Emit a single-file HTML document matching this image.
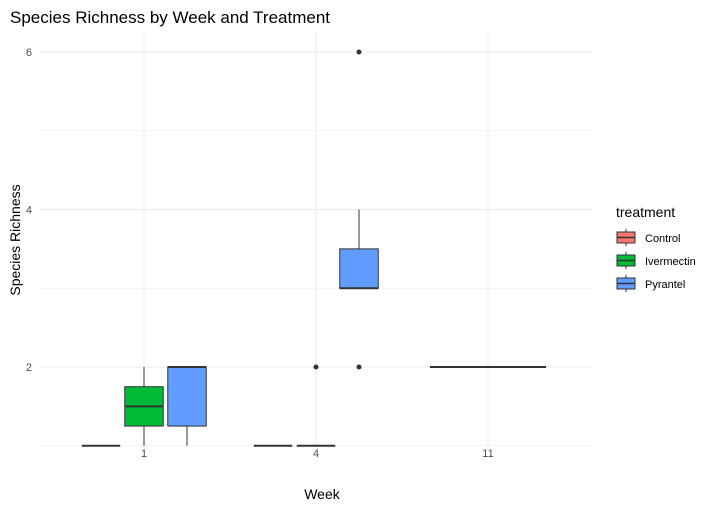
<!DOCTYPE html>
<html><head><meta charset="utf-8"><style>
body{margin:0;background:#fff;font-family:"Liberation Sans",sans-serif}
</style></head><body>
<svg id="c" width="715" height="510" xmlns="http://www.w3.org/2000/svg">
<text x="10" y="23" font-size="17" fill="#000">Species Richness by Week and Treatment</text>
<g id="grid"></g><g id="marks"></g><g id="axes"></g>
<text x="322" y="499" font-size="14" text-anchor="middle">Week</text>
<text transform="translate(20,240) rotate(-90)" font-size="14" text-anchor="middle">Species Richness</text>
<g id="legend"></g>
</svg>
<script>
const weeks=["1","4","11"];
const treatments=["Control","Ivermectin","Pyrantel"];
const colors=["#F8766D","#00BA38","#619CFF"];
// [week, treatment, min, q1, median, q3, max]
const boxes=[
 [0,0,1,1,1,1,1],
 [0,1,1,1.25,1.5,1.75,2],
 [0,2,1,1.25,2,2,2],
 [1,0,1,1,1,1,1],
 [1,1,1,1,1,1,1],
 [1,2,3,3,3,3.5,4],
 [2,-1,2,2,2,2,2]
];
const outliers=[[1,1,2],[1,2,6],[1,2,2]];
const yTicks=[2,4,6];
const NS="http://www.w3.org/2000/svg";
const L=40,R=592,T=32,B=448;
const ys=v=>445.75-(v-1)*78.75;
const xc=i=>144+i*172;
const bw=38.5,gw=43;
function mk(p,t,a){const e=document.createElementNS(NS,t);for(const k in a)e.setAttribute(k,a[k]);document.getElementById(p).appendChild(e);return e;}
for(let v=1;v<=6;v+=1){const g=mk('grid','line',{x1:L,x2:R,y1:ys(v),y2:ys(v),stroke:'#ebebeb','stroke-width':v%2===0?1.1:0.6});

}
weeks.forEach((w,i)=>{const g=mk('grid','line',{x1:xc(i),x2:xc(i),y1:T,y2:B,stroke:'#ebebeb'});


const t=mk('axes','text',{x:xc(i),y:457,'font-size':11,fill:'#4d4d4d','text-anchor':'middle'});t.textContent=w;

});
yTicks.forEach(v=>{const t=mk('axes','text',{x:32,y:ys(v)+4,'font-size':11,fill:'#4d4d4d','text-anchor':'end'});t.textContent=v;

});
boxes.forEach(b=>{const[w,t,mn,q1,md,q3,mx]=b;let cx,wd,col;
 if(t<0){cx=xc(w);wd=116;col=colors[2];}else{cx=xc(w)+(t-1)*gw;wd=bw;col=colors[t];}
 const l1=mk('marks','line',{x1:cx,x2:cx,y1:ys(mx),y2:ys(mn),stroke:'#333','stroke-width':1});
 
 
 const r=mk('marks','rect',{x:cx-wd/2,y:ys(q3),width:wd,height:Math.max(0,ys(q1)-ys(q3)),fill:col,stroke:'#333','stroke-width':1});
 
 
 const m=mk('marks','line',{x1:cx-wd/2,x2:cx+wd/2,y1:ys(md),y2:ys(md),stroke:'#333','stroke-width':2});
 
 });
outliers.forEach(o=>{const c=mk('marks','circle',{cx:xc(o[0])+(o[1]-1)*gw,cy:ys(o[2]),r:2.5,fill:'#333'});

});
const lt=mk('legend','text',{x:616,y:217,'font-size':14});lt.textContent='treatment';


treatments.forEach((t,i)=>{const y=229+i*23;
 mk('legend','line',{x1:626,x2:626,y1:y,y2:y+17,stroke:'#333'});
 const k=mk('legend','rect',{x:617,y:y+3,width:18,height:11,fill:colors[i],stroke:'#333'});
 
 
 mk('legend','line',{x1:617,x2:635,y1:y+8.5,y2:y+8.5,stroke:'#333','stroke-width':1.5});
 const tx=mk('legend','text',{x:645,y:y+13,'font-size':11});tx.textContent=t;
 
 });
</script>
</body></html>
